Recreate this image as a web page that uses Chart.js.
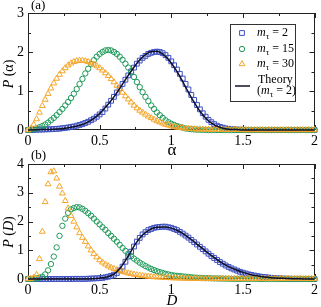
<!DOCTYPE html>
<html>
<head>
<meta charset="utf-8">
<script src="https://cdn.jsdelivr.net/npm/chart.js@4.4.1/dist/chart.umd.min.js"></script>
<style>
  html, body { margin: 0; padding: 0; background: #fff; }
  #wrap { position: relative; width: 321px; height: 307px; }
  .panel { position: absolute; left: 0; width: 321px; }
  #panelA { top: 0; height: 160px; }
  #panelB { top: 150px; height: 157px; }
</style>
</head>
<body>
<div id="wrap">
  <div class="panel" id="panelA"><canvas id="chartA"></canvas></div>
  <div class="panel" id="panelB"><canvas id="chartB"></canvas></div>
</div>
<script>
// sample grid (0.02 steps) used by the simulation markers
const grid = [
  0, 0.02, 0.04, 0.06, 0.08, 0.1, 0.12, 0.14, 0.16, 0.18,
  0.2, 0.22, 0.24, 0.26, 0.28, 0.3, 0.32, 0.34, 0.36, 0.38,
  0.4, 0.42, 0.44, 0.46, 0.48, 0.5, 0.52, 0.54, 0.56, 0.58,
  0.6, 0.62, 0.64, 0.66, 0.68, 0.7, 0.72, 0.74, 0.76, 0.78,
  0.8, 0.82, 0.84, 0.86, 0.88, 0.9, 0.92, 0.94, 0.96, 0.98,
  1, 1.02, 1.04, 1.06, 1.08, 1.1, 1.12, 1.14, 1.16, 1.18,
  1.2, 1.22, 1.24, 1.26, 1.28, 1.3, 1.32, 1.34, 1.36, 1.38,
  1.4, 1.42, 1.44, 1.46, 1.48, 1.5, 1.52, 1.54, 1.56, 1.58,
  1.6, 1.62, 1.64, 1.66, 1.68, 1.7, 1.72, 1.74, 1.76, 1.78,
  1.8, 1.82, 1.84, 1.86, 1.88, 1.9, 1.92, 1.94, 1.96, 1.98,
  2
];
// theory curve grid (0.05 steps)
const theoryGrid = [
  0, 0.05, 0.1, 0.15, 0.2, 0.25, 0.3, 0.35, 0.4, 0.45,
  0.5, 0.55, 0.6, 0.65, 0.7, 0.75, 0.8, 0.85, 0.9, 0.95,
  1, 1.05, 1.1, 1.15, 1.2, 1.25, 1.3, 1.35, 1.4, 1.45,
  1.5, 1.55, 1.6, 1.65, 1.7, 1.75, 1.8, 1.85, 1.9, 1.95,
  2
];

// panel (a): P(alpha)
const alphaM2 = [
  0, 0, 0.005, 0.007, 0.01, 0.012, 0.015, 0.018, 0.02, 0.025,
  0.03, 0.035, 0.045, 0.055, 0.065, 0.08, 0.09, 0.11, 0.13, 0.15,
  0.18, 0.21, 0.25, 0.29, 0.34, 0.40, 0.46, 0.55, 0.65, 0.75,
  0.85, 0.96, 1.07, 1.18, 1.29, 1.40, 1.50, 1.60, 1.70, 1.78,
  1.85, 1.90, 1.95, 1.98, 2.00, 2.01, 2.00, 1.97, 1.92, 1.85,
  1.76, 1.66, 1.55, 1.44, 1.32, 1.18, 1.04, 0.90, 0.77, 0.64,
  0.53, 0.43, 0.34, 0.26, 0.20, 0.15, 0.11, 0.08, 0.06, 0.04,
  0.03, 0.02, 0.015, 0.01, 0.008, 0.005, 0.003, 0, 0, 0,
  0, 0, 0, 0, 0, 0, 0, 0, 0, 0,
  0, 0, 0, 0, 0, 0, 0, 0, 0, 0,
  0
];
const alphaM15 = [
  0, 0.01, 0.02, 0.04, 0.07, 0.10, 0.14, 0.19, 0.25, 0.31,
  0.38, 0.46, 0.54, 0.63, 0.72, 0.82, 0.93, 1.05, 1.18, 1.31,
  1.45, 1.57, 1.69, 1.79, 1.88, 1.95, 2.00, 2.04, 2.05, 2.04,
  2.00, 1.95, 1.88, 1.80, 1.70, 1.60, 1.48, 1.36, 1.23, 1.10,
  0.97, 0.85, 0.74, 0.63, 0.54, 0.45, 0.38, 0.31, 0.25, 0.20,
  0.16, 0.13, 0.10, 0.08, 0.06, 0.04, 0.03, 0.02, 0.015, 0.01,
  0.008, 0.005, 0.003, 0, 0, 0, 0, 0, 0, 0,
  0, 0, 0, 0, 0, 0, 0, 0, 0, 0,
  0, 0, 0, 0, 0, 0, 0, 0, 0, 0,
  0, 0, 0, 0, 0, 0, 0, 0, 0, 0,
  0
];
const alphaM30 = [
  0, 0.04, 0.14, 0.28, 0.45, 0.62, 0.78, 0.93, 1.07, 1.20,
  1.32, 1.42, 1.51, 1.59, 1.66, 1.71, 1.75, 1.77, 1.78, 1.78,
  1.77, 1.75, 1.72, 1.68, 1.64, 1.59, 1.53, 1.46, 1.39, 1.31,
  1.23, 1.14, 1.05, 0.96, 0.87, 0.79, 0.71, 0.63, 0.56, 0.50,
  0.45, 0.40, 0.35, 0.31, 0.27, 0.23, 0.20, 0.17, 0.14, 0.12,
  0.10, 0.08, 0.07, 0.06, 0.05, 0.04, 0.035, 0.03, 0.025, 0.02,
  0.02, 0.015, 0.015, 0.01, 0.01, 0.01, 0.005, 0.005, 0.005, 0.005,
  0.005, 0.005, 0.005, 0.005, 0.005, 0, 0, 0, 0, 0,
  0, 0, 0, 0, 0, 0, 0, 0, 0, 0,
  0, 0, 0, 0, 0, 0, 0, 0, 0, 0,
  0
];
const alphaTheory = [
  0, 0.005, 0.01, 0.015, 0.025, 0.04, 0.07, 0.11, 0.17, 0.27,
  0.42, 0.62, 0.85, 1.12, 1.40, 1.66, 1.87, 2.00, 2.02, 1.92,
  1.72, 1.44, 1.10, 0.77, 0.48, 0.27, 0.13, 0.06, 0.02, 0.01,
  0, 0, 0, 0, 0, 0, 0, 0, 0, 0,
  0
];

// panel (b): P(D)
const dM2 = [
  0, 0, 0, 0, 0, 0, 0, 0, 0, 0,
  0, 0, 0, 0, 0, 0, 0.005, 0.005, 0.005, 0.005,
  0.005, 0.01, 0.015, 0.02, 0.025, 0.03, 0.04, 0.06, 0.08, 0.11,
  0.15, 0.21, 0.30, 0.43, 0.60, 0.78, 0.95, 1.13, 1.30, 1.43,
  1.55, 1.63, 1.70, 1.74, 1.78, 1.80, 1.81, 1.82, 1.82, 1.80,
  1.78, 1.74, 1.70, 1.64, 1.58, 1.51, 1.44, 1.36, 1.28, 1.20,
  1.12, 1.04, 0.96, 0.88, 0.80, 0.73, 0.66, 0.59, 0.53, 0.47,
  0.42, 0.37, 0.33, 0.29, 0.25, 0.22, 0.19, 0.16, 0.14, 0.12,
  0.10, 0.085, 0.07, 0.06, 0.05, 0.04, 0.03, 0.025, 0.02, 0.015,
  0.01, 0.01, 0.005, 0.005, 0.005, 0.005, 0, 0, 0, 0,
  0
];
const dM15 = [
  0, 0, 0.01, 0.02, 0.04, 0.08, 0.16, 0.30, 0.52, 0.78,
  1.10, 1.50, 1.85, 2.10, 2.30, 2.42, 2.47, 2.50, 2.49, 2.44,
  2.37, 2.29, 2.20, 2.10, 2.00, 1.90, 1.80, 1.71, 1.60, 1.50,
  1.40, 1.30, 1.19, 1.08, 0.98, 0.88, 0.79, 0.71, 0.64, 0.57,
  0.51, 0.45, 0.40, 0.35, 0.31, 0.27, 0.24, 0.21, 0.18, 0.16,
  0.14, 0.12, 0.11, 0.10, 0.09, 0.08, 0.07, 0.06, 0.05, 0.045,
  0.04, 0.035, 0.03, 0.03, 0.025, 0.02, 0.02, 0.015, 0.015, 0.01,
  0.01, 0.005, 0.005, 0.005, 0.005, 0.005, 0.005, 0.005, 0.005, 0.005,
  0.005, 0, 0, 0, 0, 0, 0, 0, 0, 0,
  0, 0, 0, 0, 0, 0, 0, 0, 0, 0,
  0
];
const dM30 = [
  0, 0.01, 0.05, 0.15, 0.70, 1.65, 2.68, 3.30, 3.72, 3.75,
  3.50, 3.22, 2.98, 2.72, 2.46, 2.20, 2.00, 1.80, 1.60, 1.44,
  1.30, 1.14, 1.00, 0.88, 0.76, 0.66, 0.58, 0.51, 0.45, 0.40,
  0.36, 0.32, 0.29, 0.26, 0.23, 0.20, 0.18, 0.16, 0.14, 0.13,
  0.11, 0.10, 0.09, 0.08, 0.07, 0.065, 0.06, 0.05, 0.045, 0.04,
  0.035, 0.03, 0.03, 0.025, 0.02, 0.02, 0.015, 0.015, 0.01, 0.01,
  0.01, 0.005, 0.005, 0.005, 0.005, 0.005, 0.005, 0.005, 0.005, 0.005,
  0.005, 0.005, 0.005, 0.005, 0.005, 0.005, 0.005, 0.005, 0.005, 0.005,
  0.005, 0.005, 0.005, 0.005, 0.005, 0.005, 0.005, 0.005, 0.005, 0.005,
  0.005, 0.005, 0.005, 0.005, 0.005, 0.005, 0.005, 0.005, 0.005, 0.005,
  0.005
];
const dTheory = [
  0, 0, 0, 0, 0, 0, 0, 0, 0, 0.01,
  0.03, 0.07, 0.17, 0.42, 0.80, 1.22, 1.53, 1.72, 1.80, 1.81,
  1.77, 1.67, 1.52, 1.33, 1.13, 0.93, 0.74, 0.57, 0.43, 0.32,
  0.23, 0.16, 0.11, 0.07, 0.045, 0.03, 0.02, 0.01, 0.005, 0,
  0
];

const xTickLabels = ['0', '0.5', '1', '1.5', '2'];

const SERIF = '"Liberation Serif", "Times New Roman", serif';
const BLUE = '#3e50c0';
const GREEN = '#1f9a5a';
const ORANGE = '#f5a52a';
const DARK = '#10102a';

Chart.defaults.font.family = SERIF;
Chart.defaults.font.size = 14;
Chart.defaults.color = '#000';

function pts(xs, ys) {
    return xs.map((x, i) => ({ x: x, y: ys[i] }));
}

// draws a run of text parts (italic / subscript) starting at x
function drawRich(ctx, parts, x, y, size) {
    parts.forEach(p => {
        const s = p.sub ? size * 0.72 : size;
        ctx.font = (p.italic ? 'italic ' : '') + s + 'px ' + SERIF;
        ctx.fillText(p.t, x, y + (p.sub ? size * 0.3 : 0));
        x += ctx.measureText(p.t).width;
    });
    return x;
}
function richWidth(ctx, parts, size) {
    let w = 0;
    parts.forEach(p => {
        const s = p.sub ? size * 0.72 : size;
        ctx.font = (p.italic ? 'italic ' : '') + s + 'px ' + SERIF;
        w += ctx.measureText(p.t).width;
    });
    return w;
}

// box around the plot with inward ticks on all four sides
const framePlugin = {
    id: 'frame',
    beforeDatasetsDraw(chart) {
        const { ctx, chartArea: a, scales: { x, y } } = chart;
        ctx.save();
        ctx.strokeStyle = '#222';
        ctx.lineWidth = 1;
        ctx.strokeRect(Math.round(a.left) + 0.5, Math.round(a.top) + 0.5,
            Math.round(a.right - a.left) - 1, Math.round(a.bottom - a.top) - 1);
        ctx.beginPath();
        for (let v = x.min; v <= x.max + 1e-9; v += 0.25) {
            const px = Math.round(x.getPixelForValue(v)) + 0.5;
            const len = Math.abs(v * 2 - Math.round(v * 2)) < 1e-6 ? 5 : 3;
            ctx.moveTo(px, a.bottom); ctx.lineTo(px, a.bottom - len);
            ctx.moveTo(px, a.top); ctx.lineTo(px, a.top + len);
        }
        for (let v = y.min; v <= y.max + 1e-9; v += 0.5) {
            const py = Math.round(y.getPixelForValue(v)) + 0.5;
            const len = Math.abs(v - Math.round(v)) < 1e-6 ? 5 : 3;
            ctx.moveTo(a.left, py); ctx.lineTo(a.left + len, py);
            ctx.moveTo(a.right, py); ctx.lineTo(a.right - len, py);
        }
        ctx.stroke();
        ctx.restore();
    }
};

// panel label, axis titles and (for panel a) the legend box
const labelsPlugin = {
    id: 'labels',
    afterDraw(chart, args, o) {
        const ctx = chart.ctx;
        ctx.save();
        ctx.fillStyle = '#000';
        ctx.textBaseline = 'middle';
        ctx.textAlign = 'left';

        ctx.font = '13px ' + SERIF;
        ctx.fillText(o.panel, 31, 6);

        // y title, rotated
        ctx.save();
        ctx.translate(9, o.yTitleY);
        ctx.rotate(-Math.PI / 2);
        const w = richWidth(ctx, o.yTitle, 14);
        drawRich(ctx, o.yTitle, -w / 2, 0, 14);
        ctx.restore();

        // x title
        const xw = richWidth(ctx, o.xTitle, o.xTitleSize);
        drawRich(ctx, o.xTitle, 172 - xw / 2, o.xTitleY, o.xTitleSize);

        if (o.legend) {
            ctx.strokeStyle = '#333';
            ctx.lineWidth = 1;
            ctx.strokeRect(230.5, 24.5, 65, 77);
            const rows = [
                { style: 'rect', r: 3.4, color: BLUE, y: 33, text: ' = 2' },
                { style: 'circle', r: 2.7, color: GREEN, y: 49, text: ' = 15' },
                { style: 'triangle', r: 3.4, color: ORANGE, y: 64, text: ' = 30' }
            ];
            rows.forEach(r => {
                ctx.strokeStyle = r.color;
                ctx.fillStyle = 'rgba(0,0,0,0)';
                Chart.helpers.drawPoint(ctx, { pointStyle: r.style, radius: r.r, borderWidth: 1, rotation: 0 }, 242, r.y);
                ctx.fillStyle = '#000';
                drawRich(ctx, [{ t: 'm', italic: true }, { t: 'τ', sub: true }, { t: r.text }], 257, r.y, 12);
            });
            ctx.strokeStyle = DARK;
            ctx.lineWidth = 1.5;
            ctx.beginPath();
            ctx.moveTo(235, 86);
            ctx.lineTo(250, 86);
            ctx.stroke();
            ctx.fillStyle = '#000';
            drawRich(ctx, [{ t: 'Theory' }], 258, 80, 12);
            drawRich(ctx, [{ t: '(' }, { t: 'm', italic: true }, { t: 'τ', sub: true }, { t: ' = 2)' }], 257, 91, 12);
        }
        ctx.restore();
    }
};

function makePanel(canvasId, series, theory, yMax, canvasH, plotTop, plotBottom, labels) {
    const markerSet = (label, data, style, radius, color, order) => ({
        label: label,
        data: pts(grid, data),
        pointStyle: style,
        pointRadius: radius,
        pointBorderWidth: 1,
        pointBorderColor: color,
        pointBackgroundColor: 'rgba(0,0,0,0)',
        showLine: false,
        clip: false,
        order: order
    });
    return new Chart(document.getElementById(canvasId), {
        type: 'scatter',
        data: {
            datasets: [
                {
                    label: 'Theory',
                    data: pts(theoryGrid, theory),
                    showLine: true,
                    borderColor: DARK,
                    borderWidth: 1.5,
                    pointRadius: 0,
                    cubicInterpolationMode: 'monotone',
                    clip: false,
                    order: 0
                },
                markerSet('m30', series[2], 'triangle', 3.4, ORANGE, 1),
                markerSet('m15', series[1], 'circle', 2.7, GREEN, 2),
                markerSet('m2', series[0], 'rect', 3.4, BLUE, 3)
            ]
        },
        options: {
            responsive: true,
            maintainAspectRatio: false,
            animation: false,
            events: [],
            layout: { padding: { top: plotTop, right: 6, left: 0, bottom: 0 } },
            plugins: {
                legend: { display: false },
                tooltip: { enabled: false },
                labels: labels
            },
            scales: {
                x: {
                    type: 'linear',
                    min: 0,
                    max: 2,
                    grid: { display: false, drawTicks: false },
                    border: { display: false },
                    ticks: {
                        stepSize: 0.5,
                        padding: 3,
                        maxRotation: 0,
                        callback: (v, i) => xTickLabels[i]
                    },
                    afterFit: s => { s.height = canvasH - plotBottom; }
                },
                y: {
                    min: 0,
                    max: yMax,
                    grid: { display: false, drawTicks: false },
                    border: { display: false },
                    ticks: { stepSize: 1, padding: 4 },
                    afterFit: s => { s.width = 28; }
                }
            }
        },
        plugins: [framePlugin, labelsPlugin]
    });
}

makePanel('chartA', [alphaM2, alphaM15, alphaM30], alphaTheory, 3, 160, 13, 130, {
    panel: '(a)',
    yTitle: [{ t: 'P', italic: true }, { t: ' (α)' }],
    yTitleY: 74,
    xTitle: [{ t: 'α' }],
    xTitleSize: 17,
    xTitleY: 151,
    legend: true
});

makePanel('chartB', [dM2, dM15, dM30], dTheory, 4, 157, 14, 129, {
    panel: '(b)',
    yTitle: [{ t: 'P', italic: true }, { t: ' (' }, { t: 'D', italic: true }, { t: ')' }],
    yTitleY: 82,
    xTitle: [{ t: 'D', italic: true }],
    xTitleSize: 15,
    xTitleY: 151,
    legend: false
});
</script>
</body>
</html>
